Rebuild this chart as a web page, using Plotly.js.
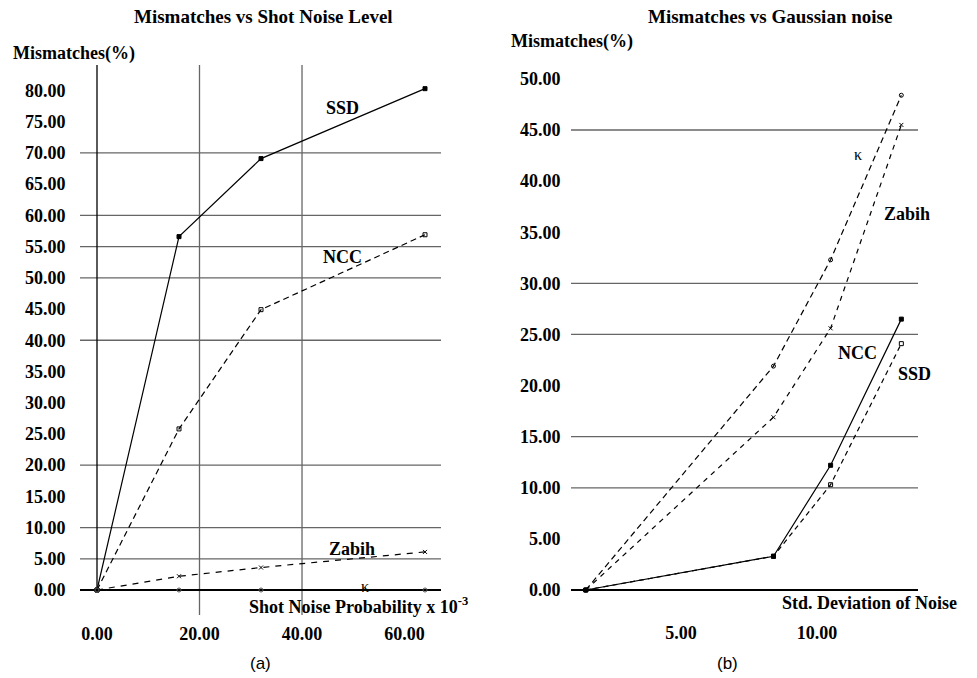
<!DOCTYPE html>
<html><head><meta charset="utf-8">
<script src="https://cdn.plot.ly/plotly-3.0.1.min.js"></script>
<style>html,body{margin:0;padding:0;background:#fff}#chart{width:977px;height:678px}</style>
</head><body><div id="chart"></div>
<script>
// ---- Data ----
const shotNoise = [0, 16, 32, 64];
const ssdShot   = [0, 56.6, 69.1, 80.3];
const nccShot   = [0, 25.8, 44.9, 56.9];
const zabihShot = [0, 2.2, 3.6, 6.1];
const kShot     = [0, 0, 0, 0];

const gaussStd   = [1.5, 8.4, 10.5, 13.1];
const kGauss     = [0, 21.9, 32.3, 48.4];
const zabihGauss = [0, 16.9, 25.6, 45.5];
const nccGauss   = [0, 3.3, 12.2, 26.5];
const ssdGauss   = [0, 3.3, 10.3, 24.1];

const yTicksShot  = [0,5,10,15,20,25,30,35,40,45,50,55,60,65,70,75,80];
const xTicksShot  = [0,20,40,60];
const yTicksGauss = [0,5,10,15,20,25,30,35,40,45,50];
const xTicksGauss = [5,10];
const gridShotY   = [5,10,20,40,50,55,60,70];
const gridShotX   = [20,40];
const gridGaussY  = [10,15,25,30,45];

const fmt = v => '<b>' + v.toFixed(2) + '</b>';
const W = 977, H = 678;
const px = x => x / W, py = y => 1 - y / H;
const SERIF = 'Liberation Serif';
const bf = (s) => ({family: SERIF, size: s, color: '#000', weight: 'bold'});
const rf = (s) => ({family: SERIF, size: s, color: '#000'});

function line(x, y, xa, ya, dash, sym, mcolor) {
  return {x, y, xaxis: xa, yaxis: ya, type: 'scatter', mode: 'lines+markers',
    line: {color: '#000', width: 1.2, dash: dash},
    marker: {symbol: sym, size: 4, color: mcolor, line: {color: '#000', width: 1}},
    hoverinfo: 'skip', showlegend: false};
}

const traces = [
  line(shotNoise, ssdShot,   'x', 'y', 'solid',    'square',      '#000'),
  line(shotNoise, nccShot,   'x', 'y', '6px,4px',  'square-open', '#000'),
  line(shotNoise, zabihShot, 'x', 'y', '6px,6px',  'x-thin-open', '#000'),
  line(shotNoise, kShot,     'x', 'y', 'solid',    'circle-open', '#555'),
  line(gaussStd, kGauss,     'x2', 'y2', '6px,4px', 'circle-open', '#000'),
  line(gaussStd, zabihGauss, 'x2', 'y2', '5px,5px', 'x-thin-open', '#000'),
  line(gaussStd, nccGauss,   'x2', 'y2', 'solid',   'square',      '#000'),
  line(gaussStd, ssdGauss,   'x2', 'y2', '5px,4px', 'square-open', '#000')
];

const gridColor = '#666';
const shapes = [];
gridShotY.forEach(v => shapes.push({type:'line', layer:'below', xref:'x domain', x0:0, x1:1, yref:'y', y0:v, y1:v, line:{color:gridColor, width:1.3}}));
gridShotX.forEach(v => shapes.push({type:'line', layer:'below', xref:'x', x0:v, x1:v, yref:'y domain', y0:0, y1:1, line:{color:gridColor, width:1.3}}));
shapes.push({type:'line', layer:'below', xref:'x', x0:0, x1:0, yref:'y domain', y0:(4.005/88.1), y1:1, line:{color:'#000', width:1.3}});
gridGaussY.forEach(v => shapes.push({type:'line', layer:'below', xref:'x2 domain', x0:0, x1:1, yref:'y2', y0:v, y1:v, line:{color:gridColor, width:1.3}}));

const ann = (text, x, y, font) => ({text, x: px(x), y: py(y), xref:'paper', yref:'paper', showarrow:false, font, xanchor:'center', yanchor:'middle'});

const annotations = [
  ann('<b>Mismatches vs Shot Noise Level</b>', 263, 16, bf(19)),
  ann('<b>Mismatches vs Gaussian noise</b>', 770, 17, bf(19)),
  ann('<b>Mismatches(%)</b>', 74, 53, bf(18)),
  ann('<b>Mismatches(%)</b>', 572, 42, bf(18)),
  ann('<b>Shot Noise Probability x 10<sup>-3</sup></b>', 358, 605, bf(18)),
  ann('<b>Std. Deviation of Noise</b>', 869, 603, bf(18)),
  ann('<b>SSD</b>', 342, 108, bf(18)),
  ann('<b>NCC</b>', 342, 257, bf(18)),
  ann('<b>Zabih</b>', 352, 549, bf(18)),
  ann('κ', 365, 586, rf(16)),
  ann('κ', 858, 154, rf(16)),
  ann('<b>Zabih</b>', 907, 214, bf(18)),
  ann('<b>NCC</b>', 857, 353, bf(18)),
  ann('<b>SSD</b>', 914, 374, bf(18)),
  ann('(a)', 260, 663, {family:'Liberation Sans', size: 17, color:'#000'}),
  ann('(b)', 727, 663, {family:'Liberation Sans', size: 17, color:'#000'})
];

const hidden = 'rgba(0,0,0,0)';
const layout = {
  width: W, height: H, margin: {l:0, r:0, t:0, b:0},
  paper_bgcolor: '#fff', plot_bgcolor: 'rgba(0,0,0,0)',
  showlegend: false,
  xaxis: {domain: [80/W, 441/W], range: [-3.317, 67.12], tickvals: xTicksShot, ticktext: xTicksShot.map(fmt),
    showgrid: false, zeroline: false, showline: false, ticks: 'outside', ticklen: 2, tickcolor: hidden,
    tickfont: bf(18), fixedrange: true},
  yaxis: {domain: [63/H, 613/H], range: [-4.005, 84.09], tickvals: yTicksShot, ticktext: yTicksShot.map(fmt),
    showgrid: false, zeroline: true, zerolinecolor: '#000', zerolinewidth: 1.5, showline: false,
    ticks: 'outside', ticklen: 10, tickcolor: hidden, tickfont: bf(18), fixedrange: true},
  xaxis2: {domain: [571/W, 918/W], range: [0.956, 13.713], tickvals: xTicksGauss, ticktext: xTicksGauss.map(fmt),
    showgrid: false, zeroline: false, showline: false, ticks: 'outside', ticklen: 21, tickcolor: hidden,
    tickfont: bf(18), anchor: 'y2', fixedrange: true},
  yaxis2: {domain: [83/H, 613/H], range: [-0.489, 51.36], tickvals: yTicksGauss, ticktext: yTicksGauss.map(fmt),
    showgrid: false, zeroline: true, zerolinecolor: '#000', zerolinewidth: 2, showline: false,
    ticks: 'outside', ticklen: 6, tickcolor: hidden, tickfont: bf(18), anchor: 'x2', fixedrange: true},
  shapes, annotations
};

Plotly.newPlot('chart', traces, layout, {displayModeBar: false, staticPlot: true});
</script>
</body></html>
